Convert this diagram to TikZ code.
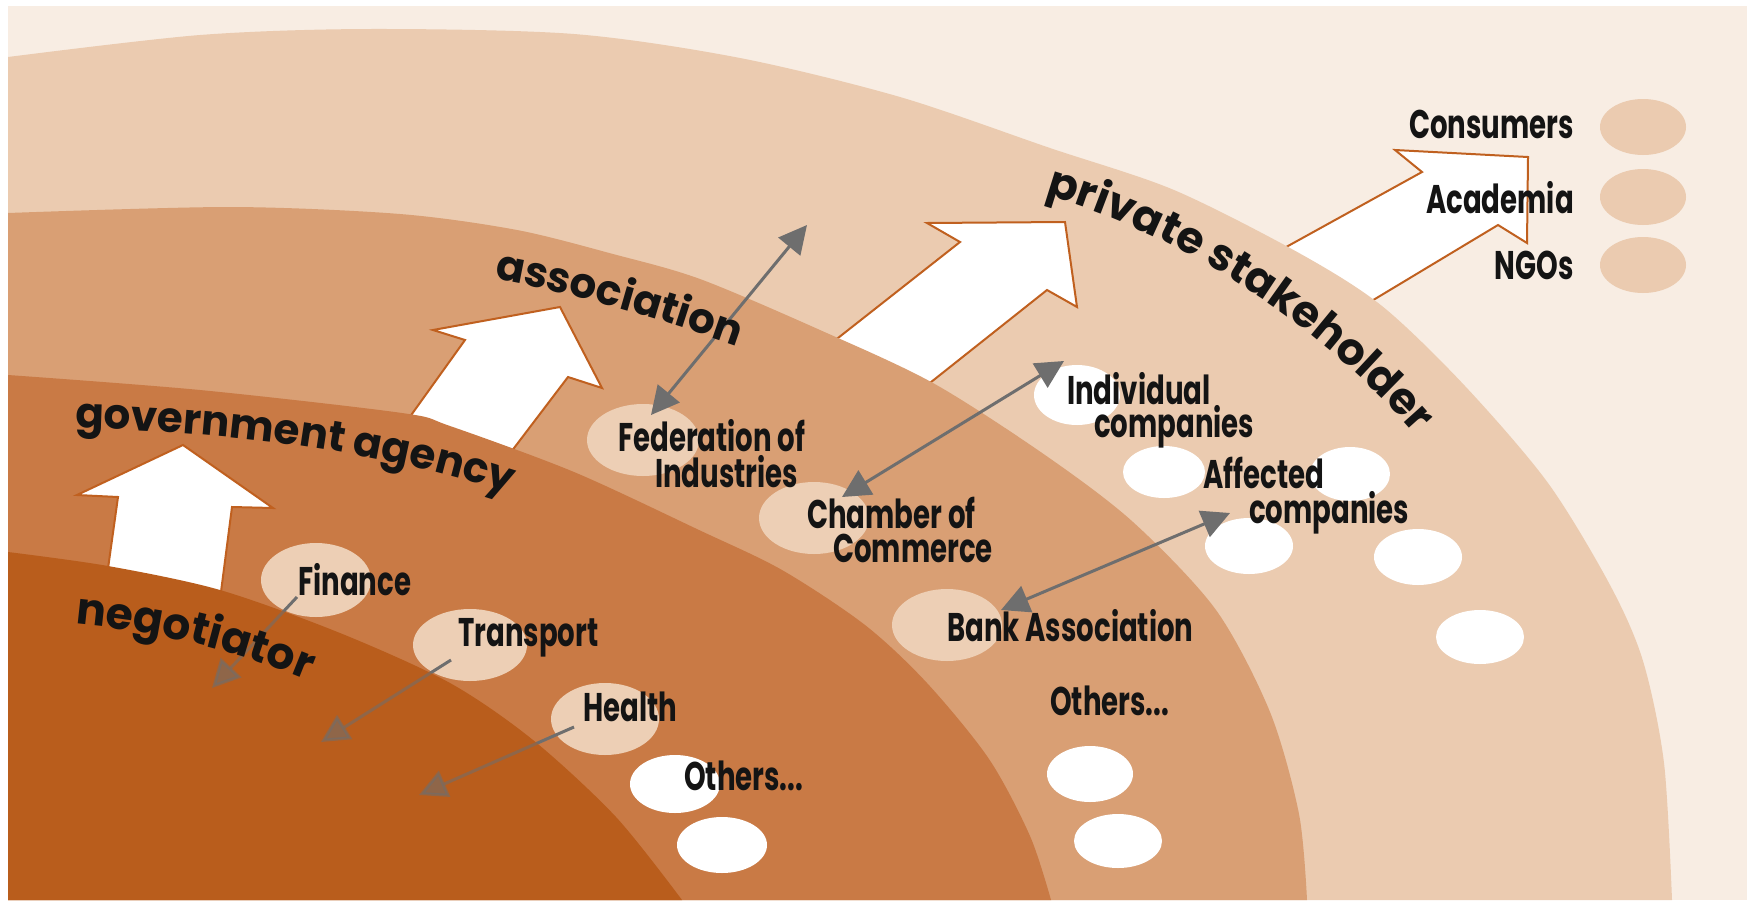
\documentclass[tikz,border=0pt]{standalone}
\usepackage{fontspec}
\usetikzlibrary{arrows.meta,decorations.text}
\newfontfamily\labfam[FakeStretch=0.69]{Poppins}
\newfontfamily\arcfam{Poppins}
\newcommand\smalllab{\labfam\bfseries\fontsize{40}{46}\selectfont}
\newcommand\biglab{\arcfam\bfseries\fontsize{44}{52}\selectfont}
\newcommand\midlab{\arcfam\bfseries\fontsize{42}{50}\selectfont}
\definecolor{cream}{HTML}{F8EDE3}
\definecolor{bandA}{HTML}{EBCBB0}
\definecolor{bandB}{HTML}{D99F74}
\definecolor{bandC}{HTML}{C97A45}
\definecolor{bandD}{HTML}{B95D1C}
\definecolor{lightel}{HTML}{EDCFB5}
\definecolor{arrowc}{HTML}{C0601F}
\definecolor{conn}{HTML}{6E6E6E}
\definecolor{ink}{HTML}{141414}
\begin{document}
\begin{tikzpicture}[x=1pt,y=1pt,
  lab/.style={font=\smalllab, text=ink, inner sep=0pt},
  blockarrow/.style={fill=white, draw=arrowc, line width=2pt, line join=miter},
  lightdot/.style={fill=lightel},
  whitedot/.style={fill=white},
  link/.style={draw=conn, line width=3pt, arrows={Triangle[length=28pt,width=28pt]-Triangle[length=28pt,width=28pt]}},
  onelink/.style={draw=conn, line width=3pt, arrows={-Triangle[length=28pt,width=28pt]}}
]
\useasboundingbox (0,0) rectangle (1747,-900);
\fill[white] (0,0) rectangle (1747,-900);
\fill[cream] (8,-6) rectangle (1747,-900);

% arrow to consumers / academia / NGOs
\path[blockarrow] (1259,-262) -- (1422,-172) -- (1395,-150) -- (1528,-157) -- (1527,-243) -- (1498,-225) -- (1345,-317);

% band 1
\fill[bandA] plot[smooth] coordinates {(8,-57) (200,-35) (370,-29) (574,-34) (740,-58) (900,-97) (1050,-148) (1174,-190) (1299,-253) (1382,-306) (1465,-386) (1548,-483) (1610,-585) (1643,-661) (1664,-763) (1672,-900)} -- (8,-900) -- cycle;

% arrow private stakeholder
\path[blockarrow] (824,-349) -- (960,-242) -- (927,-223) -- (1065,-222) -- (1077,-307) -- (1047,-290) -- (916,-394);

% band 2
\fill[bandB] plot[smooth] coordinates {(8,-213) (230,-207) (400,-214) (517,-230) (613,-254) (700,-279) (820,-330) (933,-383) (1045,-455) (1133,-522) (1216,-610) (1270,-712) (1299,-814) (1307,-900)} -- (8,-900) -- cycle;

% arrow association
\path[blockarrow] (399,-432) -- (465,-340) -- (433,-330) -- (560,-307) -- (602,-388) -- (568,-377) -- (508,-456);

% band 3
\fill[bandC] plot[smooth] coordinates {(8,-375) (200,-390) (402,-413) (450,-426) (574,-472) (699,-530) (782,-570) (865,-625) (927,-683) (989,-759) (1030,-836) (1051,-900)} -- (8,-900) -- cycle;

% arrow government agency
\path[blockarrow] (105,-590) -- (118,-497) -- (77,-495) -- (183,-445) -- (273,-508) -- (232,-507) -- (218,-615);

% light ellipses
\fill[lightdot] (316,-580) ellipse [x radius=55pt, y radius=37pt];
\fill[lightdot] (470,-645) ellipse [x radius=57pt, y radius=36pt];
\fill[lightdot] (605,-719) ellipse [x radius=54pt, y radius=36pt];
\fill[lightdot] (643,-440) ellipse [x radius=56pt, y radius=36pt];
\fill[lightdot] (814,-518) ellipse [x radius=55pt, y radius=36pt];
\fill[lightdot] (947,-625) ellipse [x radius=55pt, y radius=36pt];
\fill[bandA] (1643,-127) ellipse [x radius=43pt, y radius=28pt];
\fill[bandA] (1643,-197) ellipse [x radius=43pt, y radius=28pt];
\fill[bandA] (1643,-265) ellipse [x radius=43pt, y radius=28pt];
% white ellipses
\fill[whitedot] (675,-784) ellipse [x radius=45pt, y radius=29pt];
\fill[whitedot] (722,-845) ellipse [x radius=45pt, y radius=28pt];
\fill[whitedot] (1077,-395) ellipse [x radius=43pt, y radius=30pt];
\fill[whitedot] (1164,-472) ellipse [x radius=41pt, y radius=26pt];
\fill[whitedot] (1350,-474) ellipse [x radius=40pt, y radius=27pt];
\fill[whitedot] (1249,-546) ellipse [x radius=44pt, y radius=28pt];
\fill[whitedot] (1418,-557) ellipse [x radius=44pt, y radius=28pt];
\fill[whitedot] (1480,-637) ellipse [x radius=44pt, y radius=27pt];
\fill[whitedot] (1090,-774) ellipse [x radius=43pt, y radius=28pt];
\fill[whitedot] (1118,-841) ellipse [x radius=44pt, y radius=27pt];

% connector end points
\coordinate (fedT) at (807,-225);
\coordinate (fedB) at (651,-415);
\coordinate (chamT) at (1064,-361);
\coordinate (chamB) at (842,-497);
\coordinate (bankT) at (1230,-513);
\coordinate (bankB) at (1001,-610);
\coordinate (finS) at (297,-597);
\coordinate (finE) at (212,-688);
\coordinate (traS) at (451,-660);
\coordinate (traE) at (321,-742);
\coordinate (heaS) at (574,-727);
\coordinate (heaE) at (419,-795);

\draw[link] (fedT) -- (fedB);
\draw[link] (chamT) -- (chamB);
\draw[link] (bankT) -- (bankB);
\draw[onelink] (finS) -- (finE);
\draw[onelink] (traS) -- (traE);
\draw[onelink] (heaS) -- (heaE);

% band 4
\fill[bandD] plot[smooth] coordinates {(8,-552) (108,-566) (220,-590) (340,-633) (450,-683) (533,-740) (616,-817) (682,-900)} -- (8,-900) -- cycle;
\begin{scope}
  \clip plot[smooth] coordinates {(8,-552) (108,-566) (220,-590) (340,-633) (450,-683) (533,-740) (616,-817) (682,-900)} -- (8,-900) -- cycle;
  \draw[onelink, opacity=0.55] (finS) -- (finE);
  \draw[onelink, opacity=0.55] (traS) -- (traE);
  \draw[onelink, opacity=0.55] (heaS) -- (heaE);
\end{scope}

% labels
\node[lab, anchor=base east] (consumers) at (1574,-138) {Consumers};
\node[lab, anchor=base east] (academia) at (1574,-213) {Academia};
\node[lab, anchor=base east] (ngos) at (1574,-279) {NGOs};
\node[lab, anchor=base west] (indivA) at (1067,-404) {Individual};
\node[lab, anchor=base west] (indivB) at (1094,-437) {companies};
\node[lab, anchor=base west] (affA) at (1203,-488) {Affected};
\node[lab, anchor=base west] (affB) at (1249,-523) {companies};
\node[lab, anchor=base west] (fedA) at (618,-451) {Federation of};
\node[lab, anchor=base west] (fedI) at (655,-487) {Industries};
\node[lab, anchor=base west] (chamA) at (807,-528) {Chamber of};
\node[lab, anchor=base west] (chamC) at (833,-562) {Commerce};
\node[lab, anchor=base west] (bank) at (947,-641) {Bank Association};
\node[lab, anchor=base west] (othB) at (1050,-715) {Others...};
\node[lab, anchor=base west] (finance) at (298,-595) {Finance};
\node[lab, anchor=base west] (transport) at (458,-646) {Transport};
\node[lab, anchor=base west] (health) at (583,-721) {Health};
\node[lab, anchor=base west] (othA) at (684,-790) {Others...};

% curved labels
\path[decorate, decoration={text along path, text color=ink, text={|\biglab|negotiator}}]
  (75,-624) .. controls (160,-632) and (240,-650) .. (330,-690);
\path[decorate, decoration={text along path, text color=ink, text={|\midlab|government agency}}]
  (75,-428) .. controls (220,-432) and (380,-448) .. (528,-500);
\path[decorate, decoration={text along path, text color=ink, text={|\midlab|association}}]
  (494,-279) .. controls (580,-295) and (660,-318) .. (770,-358);
\path[decorate, decoration={text along path, text color=ink, text={|\biglab|private stakeholder}}]
  (1045,-195) .. controls (1150,-225) and (1300,-300) .. (1420,-440);
\end{tikzpicture}
\end{document}
